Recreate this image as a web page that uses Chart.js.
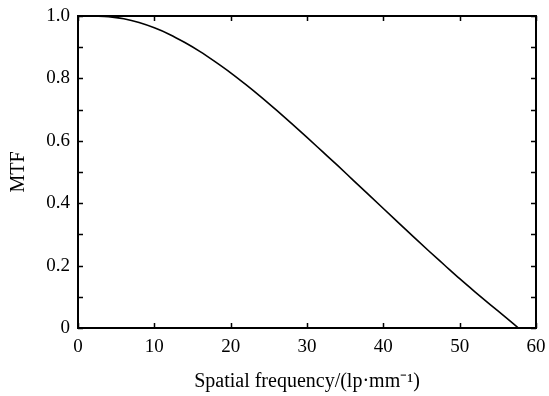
<!DOCTYPE html>
<html>
<head>
<meta charset="utf-8">
<script src="https://cdn.jsdelivr.net/npm/chart.js@4.4.1/dist/chart.umd.min.js"></script>
<style>
  html, body { margin: 0; padding: 0; background: #fff; }
  #wrap { width: 549px; height: 396px; }
</style>
</head>
<body>
<div id="wrap"><canvas id="mtf"></canvas></div>
<script>
// MTF curve
var freq = [2, 4, 6, 8, 10, 12, 14, 16, 18, 20, 22, 24, 26, 28, 30, 32, 34, 36, 38, 40, 42, 44, 46, 48, 50, 52, 54, 56, 57.7];
var mtf = [1.000, 0.998, 0.991, 0.979, 0.962, 0.941, 0.915, 0.886, 0.853, 0.818, 0.780, 0.740, 0.698, 0.655, 0.611, 0.566, 0.521, 0.475, 0.429, 0.383, 0.337, 0.291, 0.246, 0.202, 0.158, 0.116, 0.075, 0.035, 0.000];
var xTicks = [0, 10, 20, 30, 40, 50, 60];
var yTicks = [0, 0.1, 0.2, 0.3, 0.4, 0.5, 0.6, 0.7, 0.8, 0.9, 1.0];

var serif = "'Liberation Serif', 'Times New Roman', serif";

// frame and inward ticks on all four sides
var frameTicks = {
    id: 'frameTicks',
    afterDraw: function (chart) {
        var ctx = chart.ctx, a = chart.chartArea;
        var xs = chart.scales.x, ys = chart.scales.y;
        var len = 5;
        ctx.save();
        ctx.strokeStyle = '#000';
        ctx.lineWidth = 1.5;
        ctx.beginPath();
        xTicks.forEach(function (v) {
            var px = Math.round(xs.getPixelForValue(v)) + 0.5;
            ctx.moveTo(px, a.bottom); ctx.lineTo(px, a.bottom - len);
            ctx.moveTo(px, a.top); ctx.lineTo(px, a.top + len);
        });
        yTicks.forEach(function (v) {
            var py = Math.round(ys.getPixelForValue(v)) + 0.5;
            ctx.moveTo(a.left, py); ctx.lineTo(a.left + len, py);
            ctx.moveTo(a.right, py); ctx.lineTo(a.right - len, py);
        });
        ctx.stroke();
        ctx.lineWidth = 2;
        ctx.strokeRect(a.left, a.top, a.right - a.left, a.bottom - a.top);
        ctx.restore();
    }
};

var points = freq.map(function (f, i) { return { x: f, y: mtf[i] }; });

new Chart(document.getElementById('mtf'), {
    type: 'line',
    data: {
        datasets: [{
            data: points,
            borderColor: '#000',
            borderWidth: 1.6,
            pointRadius: 0,
            cubicInterpolationMode: 'monotone',
            fill: false
        }]
    },
    options: {
        responsive: true,
        maintainAspectRatio: false,
        animation: false,
        layout: { padding: { top: 16, right: 13, left: 0, bottom: 0 } },
        plugins: { legend: { display: false }, tooltip: { enabled: false } },
        scales: {
            x: {
                type: 'linear',
                min: 0, max: 60,
                afterFit: function (s) {
                    s.height = 68;
                    s.paddingLeft = 0;
                    s.paddingRight = 0;
                },
                grid: { display: false, drawTicks: false },
                border: { display: false },
                ticks: {
                    stepSize: 10,
                    padding: 8,
                    color: '#000',
                    font: { family: serif, size: 19 },
                    maxRotation: 0
                },
                title: {
                    display: true,
                    text: 'Spatial frequency/(lp·mm⁻¹)',
                    color: '#000',
                    font: { family: serif, size: 20 },
                    padding: { top: 0, bottom: 2 }
                }
            },
            y: {
                min: 0, max: 1,
                afterFit: function (s) {
                    s.width = 78;
                    s.paddingTop = 0;
                    s.paddingBottom = 0;
                },
                grid: { display: false, drawTicks: false },
                border: { display: false },
                ticks: {
                    stepSize: 0.1,
                    padding: 8,
                    color: '#000',
                    font: { family: serif, size: 19 },
                    autoSkip: false,
                    callback: function (v) {
                        var n = Math.round(v * 10);
                        if (n % 2 !== 0) return '';
                        return n === 0 ? '0' : (n / 10).toFixed(1);
                    }
                },
                title: {
                    display: true,
                    text: 'MTF',
                    color: '#000',
                    font: { family: serif, size: 20 },
                    padding: { top: 7, bottom: 0 }
                }
            }
        }
    },
    plugins: [frameTicks]
});
</script>
</body>
</html>
